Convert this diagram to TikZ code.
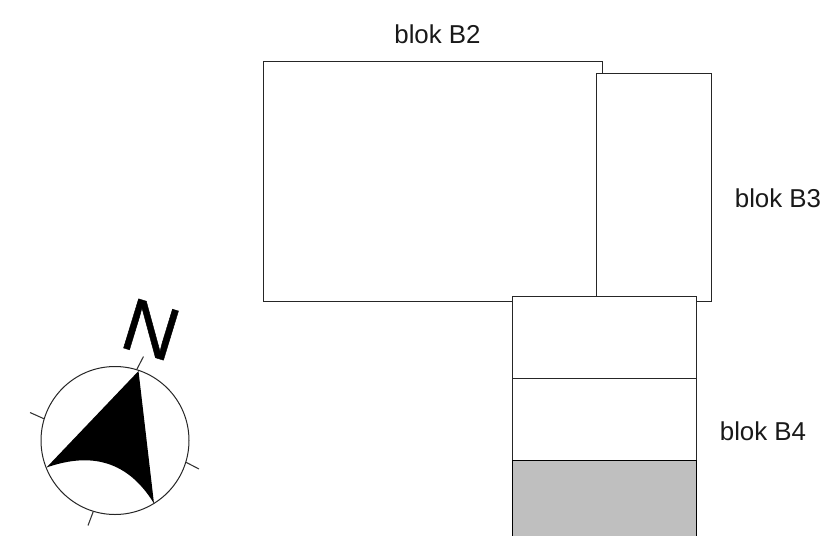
\documentclass[tikz,border=0pt]{standalone}
\usepackage{fontspec}
\setmainfont{Liberation Sans}
\newfontfamily\northfont[FakeBold=0.6]{Liberation Sans}
\usetikzlibrary{positioning}

\begin{document}
\begin{tikzpicture}[
    x=0.75pt,
    y=-0.75pt,
    line width=0.75pt,
    block/.style={rectangle, draw=black!85, fill=white, anchor=north west, inner sep=0pt, outer sep=0pt},
    label/.style={font=\fontsize{19.4}{23}\selectfont, text=black!90},
    tick/.style={draw=black!80, line width=0.8pt}
]
\useasboundingbox (0,0) rectangle (823,535);

% Blocks
\node [block, minimum width=339*0.75pt, minimum height=240*0.75pt] (b2) at (263.5,61.5) {};
\node [block, minimum width=115*0.75pt, minimum height=228*0.75pt] (b3) at (596.5,73.5) {};
\node [block, minimum width=184*0.75pt, minimum height=82*0.75pt] (b4top) at (512.5,296.5) {};
\node [block, minimum width=184*0.75pt, minimum height=82*0.75pt, below=0pt of b4top.south west, anchor=north west] (b4mid) {};
\node [block, draw=black, fill=black!25, minimum width=184*0.75pt, minimum height=80*0.75pt, below=0pt of b4mid.south west, anchor=north west] (b4low) {};

% Labels
\node [label] (labelb2) at (437.5,34) {blok B2};
\node [label] (labelb3) at (778,198) {blok B3};
\node [label] (labelb4) at (763,431) {blok B4};

% Compass
\node [circle, draw=black!85, fill=white, inner sep=0pt, outer sep=0pt, minimum size=148*0.75pt] (compass) at (115,440.5) {};
\coordinate (tipn) at (138.5,371);
\coordinate (tipw) at (46.5,467.5);
\coordinate (tips) at (154,503.5);
\fill (tipn) -- (tipw) .. controls (85,454) and (125,456) .. (tips) -- cycle;
\coordinate (tickn) at (143.5,356.5);
\coordinate (ticke) at (199,469);
\coordinate (ticks) at (88,525.5);
\coordinate (tickw) at (30,412.5);
\draw [tick] (compass.73) -- (tickn);
\draw [tick] (compass.-17) -- (ticke);
\draw [tick] (compass.-107) -- (ticks);
\draw [tick] (compass.163) -- (tickw);
\node [font=\fontsize{56}{60}\selectfont\northfont, rotate=-17, inner sep=0pt] (north) at (151,329.5) {N};

\end{tikzpicture}
\end{document}
